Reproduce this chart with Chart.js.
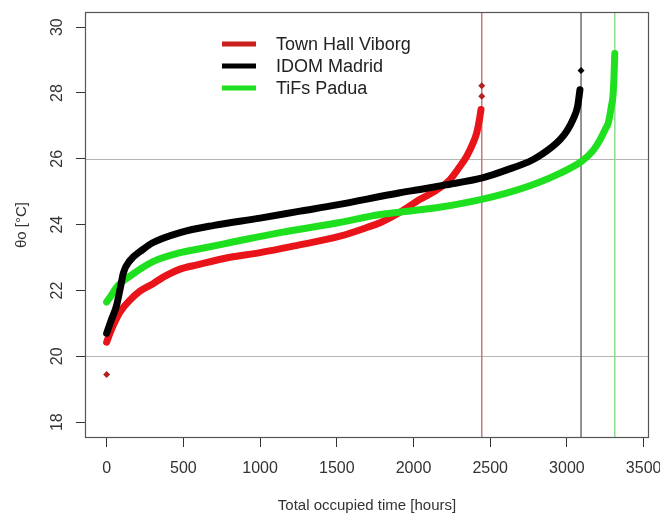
<!DOCTYPE html>
<html>
<head>
<meta charset="utf-8">
<script src="https://cdn.jsdelivr.net/npm/chart.js@4.4.0/dist/chart.umd.min.js"></script>
<style>
  html, body { margin: 0; padding: 0; background: #fff; }
</style>
</head>
<body>
<canvas id="c" width="660" height="513"></canvas>
<script>
// --- data ---
const seriesNames  = ['Town Hall Viborg', 'IDOM Madrid', 'TiFs Padua'];
const seriesColors = ['#e8141a', '#000000', '#1fe01f'];
const legendColors = ['#cc1f1f', '#000000', '#1fe01f'];

const viborgHours = [0, 30, 87, 150, 217, 300, 367, 479, 590, 804, 1000, 1250, 1521, 1700, 1782, 1912, 2043, 2150, 2238, 2300, 2347, 2390, 2412, 2430, 2440];
const viborgTemp  = [20.43, 20.8, 21.34, 21.7, 21.98, 22.2, 22.4, 22.65, 22.78, 23.01, 23.15, 23.38, 23.65, 23.92, 24.06, 24.38, 24.77, 25.05, 25.37, 25.75, 26.08, 26.5, 26.79, 27.2, 27.5];

const madridHours = [0, 30, 65, 90, 110, 150, 237, 300, 479, 700, 1000, 1261, 1500, 1912, 2043, 2200, 2455, 2600, 2781, 2900, 2955, 3000, 3040, 3070, 3085];
const madridTemp  = [20.7, 21.1, 21.55, 22.1, 22.55, 22.9, 23.25, 23.45, 23.76, 23.98, 24.2, 24.41, 24.6, 24.97, 25.07, 25.2, 25.43, 25.65, 25.98, 26.35, 26.58, 26.85, 27.2, 27.6, 28.1];

const paduaHours = [0, 30, 65, 150, 302, 479, 608, 800, 1130, 1500, 1782, 1912, 2200, 2444, 2600, 2781, 2950, 3097, 3170, 3216, 3250, 3270, 3290, 3300, 3306, 3312];
const paduaTemp  = [21.65, 21.85, 22.1, 22.43, 22.88, 23.15, 23.27, 23.45, 23.76, 24.05, 24.31, 24.38, 24.55, 24.77, 24.95, 25.22, 25.55, 25.93, 26.25, 26.58, 26.9, 27.1, 27.6, 27.9, 28.4, 29.2];

// isolated points at the ends of the curves
const viborgOutHours = [0, 2445, 2445];
const viborgOutTemp  = [19.45, 27.9, 28.22];
const madridOutHours = [3092];
const madridOutTemp  = [28.68];

// reference lines
const hRefTemps  = [20, 26];
const vRefHours  = [2445, 3092, 3312];
const vRefColors = ['#c47a7a', '#6e6e6e', '#8fdc8f'];

const xTicks = [0, 500, 1000, 1500, 2000, 2500, 3000, 3500];
const yTicks = [18, 20, 22, 24, 26, 28, 30];
const xRange = [-141, 3535];
const yRange = [17.52, 30.46];

const FONT = 'Arial, "Liberation Sans", sans-serif';
const pts = (xs, ys) => xs.map((x, i) => ({ x, y: ys[i] }));

const curve = (i, xs, ys) => ({
  label: seriesNames[i],
  data: pts(xs, ys),
  showLine: true,
  borderColor: seriesColors[i],
  borderWidth: 7,
  borderCapStyle: 'round',
  borderJoinStyle: 'round',
  cubicInterpolationMode: 'monotone',
  pointRadius: 0
});

const dots = (xs, ys, color) => ({
  data: pts(xs, ys),
  showLine: false,
  pointStyle: 'rectRot',
  pointRadius: 3.5,
  pointBackgroundColor: color,
  pointBorderWidth: 0
});

// linhas de referência, moldura, rótulos do eixo y e legenda
const decor = {
  id: 'decor',
  beforeDatasetsDraw(chart) {
    const { ctx, chartArea: a, scales: { x, y } } = chart;
    ctx.save();
    ctx.lineWidth = 1;
    ctx.strokeStyle = '#b4b4b4';
    hRefTemps.forEach(t => {
      const py = Math.round(y.getPixelForValue(t)) + 0.5;
      ctx.beginPath(); ctx.moveTo(a.left, py); ctx.lineTo(a.right, py); ctx.stroke();
    });
    ctx.lineWidth = 1.5;
    vRefHours.forEach((h, i) => {
      const px = x.getPixelForValue(h);
      ctx.strokeStyle = vRefColors[i];
      ctx.beginPath(); ctx.moveTo(px, a.top); ctx.lineTo(px, a.bottom); ctx.stroke();
    });
    ctx.restore();
  },
  afterDraw(chart) {
    const { ctx, chartArea: a, scales: { y } } = chart;
    ctx.save();
    // box
    ctx.strokeStyle = '#555';
    ctx.lineWidth = 1.2;
    ctx.strokeRect(a.left + 0.5, a.top + 0.5, a.right - a.left - 1, a.bottom - a.top - 1);

    // y tick labels, rotated like R
    ctx.fillStyle = '#333';
    ctx.font = '16px ' + FONT;
    ctx.textAlign = 'center';
    ctx.textBaseline = 'middle';
    yTicks.forEach(t => {
      ctx.save();
      ctx.translate(58, y.getPixelForValue(t));
      ctx.rotate(-Math.PI / 2);
      ctx.fillText(String(t), 0, 0);
      ctx.restore();
    });

    // legend
    ctx.font = '18px ' + FONT;
    ctx.textAlign = 'left';
    seriesNames.forEach((name, i) => {
      const ly = 44 + i * 22;
      ctx.strokeStyle = legendColors[i];
      ctx.lineWidth = 5;
      ctx.beginPath(); ctx.moveTo(222, ly); ctx.lineTo(256, ly); ctx.stroke();
      ctx.fillStyle = '#222';
      ctx.fillText(name, 276, ly + 1);
    });
    ctx.restore();
  }
};

new Chart(document.getElementById('c'), {
  type: 'scatter',
  data: {
    datasets: [
      curve(1, madridHours, madridTemp),
      curve(2, paduaHours, paduaTemp),
      curve(0, viborgHours, viborgTemp),
      dots(viborgOutHours, viborgOutTemp, '#b22222'),
      dots(madridOutHours, madridOutTemp, '#000000')
    ]
  },
  options: {
    responsive: false,
    animation: false,
    layout: { padding: { top: 12, right: 11, left: 0, bottom: 0 } },
    plugins: { legend: { display: false }, tooltip: { enabled: false } },
    scales: {
      x: {
        type: 'linear',
        min: xRange[0],
        max: xRange[1],
        afterBuildTicks: s => { s.ticks = xTicks.map(v => ({ value: v })); },
        afterFit: s => { s.height = 75; s.paddingLeft = 0; s.paddingRight = 0; },
        border: { display: false },
        grid: { drawOnChartArea: false, drawTicks: true, tickLength: 9, color: '#333' },
        ticks: { color: '#333', font: { size: 16, family: FONT }, padding: 12, maxRotation: 0, callback: v => String(v) },
        title: {
          display: true,
          text: 'Total occupied time [hours]',
          color: '#333',
          font: { size: 15, family: FONT },
          padding: { top: 0, bottom: -2 }
        }
      },
      y: {
        type: 'linear',
        min: yRange[0],
        max: yRange[1],
        afterBuildTicks: s => { s.ticks = yTicks.map(v => ({ value: v })); },
        afterFit: s => { s.width = 85; s.paddingTop = 0; s.paddingBottom = 0; },
        border: { display: false },
        grid: { drawOnChartArea: false, drawTicks: true, tickLength: 9, color: '#333' },
        ticks: { display: false },
        title: {
          display: true,
          text: 'θo [°C]',
          color: '#333',
          font: { size: 15, family: FONT },
          padding: { top: 13, bottom: 0 }
        }
      }
    }
  },
  plugins: [decor]
});
</script>
</body>
</html>
